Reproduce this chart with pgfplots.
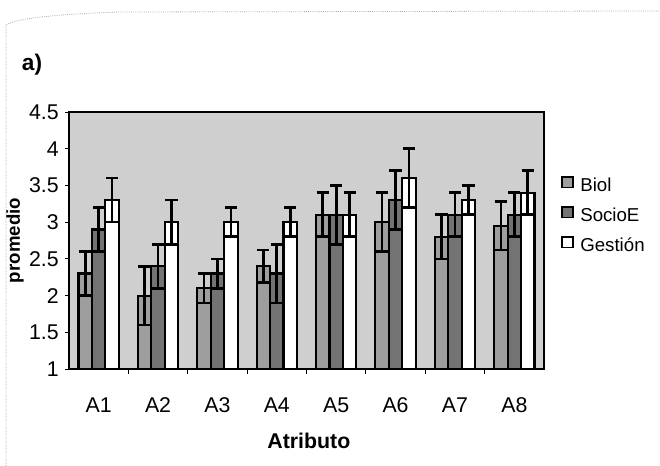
\documentclass[border=0pt]{standalone}
\usepackage{pgfplots}
\pgfplotsset{compat=1.18}
\usepackage{pgfplotstable}
\usepackage{fontspec}
\setmainfont{Liberation Sans}
\pgfplotstableread{
x b be s se g ge
1 2.30 0.30 2.90 0.30 3.30 0.30
2 2.00 0.40 2.40 0.30 3.00 0.30
3 2.10 0.20 2.30 0.20 3.00 0.20
4 2.40 0.22 2.30 0.40 3.00 0.20
5 3.10 0.30 3.10 0.40 3.10 0.30
6 3.00 0.40 3.30 0.40 3.60 0.40
7 2.80 0.30 3.10 0.30 3.30 0.20
8 2.95 0.33 3.10 0.30 3.40 0.30
}\datatable
\begin{document}
\begin{tikzpicture}
\useasboundingbox (-51.75pt,-72.75pt) rectangle (443.25pt,276.75pt);
\draw[gray!70, line width=0.6pt, densely dotted] (-47.25pt,-72.75pt) -- (-47.25pt,258pt) .. controls (-40pt,263pt) and (-10pt,266pt) .. (38.25pt,267.75pt) -- (443.25pt,268.5pt);
\node[font=\fontsize{17}{20}\selectfont\bfseries] at (-27.75pt,228pt) {a)};
\begin{axis}[
  at={(0pt,0pt)}, anchor=south west,
  scale only axis, width=356.25pt, height=192.75pt,
  ybar=0pt, bar width=0.227,
  xmin=0.5, xmax=8.5, ymin=1, ymax=4.5,
  axis background/.style={fill=black!19},
  axis line style={line width=1.4pt},
  ytick={1,1.5,2,2.5,3,3.5,4,4.5},
  xtick={1,2,3,4,5,6,7,8},
  xticklabels={A1,A2,A3,A4,A5,A6,A7,A8},
  minor xtick={1.5,2.5,3.5,4.5,5.5,6.5,7.5},
  major x tick style={draw=none},
  tick align=outside,
  tick style={black, line width=0.6pt},
  major tick length=3pt, minor tick length=3.5pt,
  xtick pos=bottom, ytick pos=left,
  /pgf/number format/assume math mode=true,
  ticklabel style={font=\fontsize{16}{19}\selectfont},
  xticklabel style={anchor=center, yshift=-24pt},
  yticklabel style={anchor=east, inner sep=0pt, xshift=-4.5pt},
  xlabel={Atributo},
  xlabel style={at={(axis description cs:0.505,-0.28)}, anchor=center, font=\fontsize{16}{19}\selectfont\bfseries},
  ylabel={promedio},
  ylabel style={at={(axis description cs:-0.1137,0.5)}, anchor=center, font=\fontsize{14}{17}\selectfont\bfseries},
  legend image code/.code={\draw[#1, line width=1.2pt] (0pt,-1.8pt) rectangle (8pt,6.2pt);},
  legend style={at={(axis description cs:1.036,0.752)}, anchor=north west, draw=none, fill=none, inner sep=0pt,
    row sep=11pt, column sep=5pt,
    nodes={inner sep=0pt, text height=9.5pt, text depth=0pt, font=\fontsize{14}{16}\selectfont}},
  legend cell align=left,
  error bars/error bar style={line width=2pt, black},
  error bars/error mark options={rotate=90, mark size=4.6pt, line width=2pt, black},
]
\addlegendimage{fill=black!38, draw=black}
\addlegendentry{Biol}
\addlegendimage{fill=black!55, draw=black}
\addlegendentry{SocioE}
\addlegendimage{fill=white, draw=black}
\addlegendentry{Gestión}
\addplot[forget plot, bar shift=-0.227, fill=black!38, draw=black, line width=1.6pt,
  error bars/.cd, y dir=both, y explicit] table[x=x, y=b, y error=be] {\datatable};
\addplot[forget plot, bar shift=0, fill=black!55, draw=black, line width=1.6pt,
  error bars/.cd, y dir=both, y explicit] table[x=x, y=s, y error=se] {\datatable};
\addplot[forget plot, bar shift=0.227, fill=white, draw=black, line width=1.6pt,
  error bars/.cd, y dir=both, y explicit] table[x=x, y=g, y error=ge] {\datatable};
\end{axis}
\end{tikzpicture}
\end{document}
